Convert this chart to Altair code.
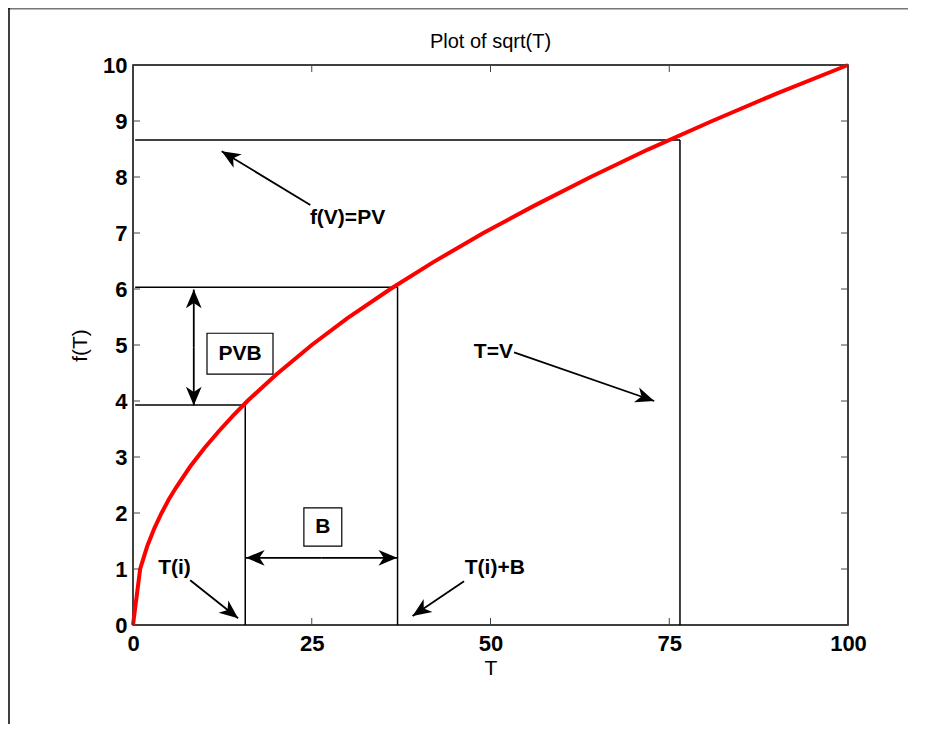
import math
import altair as alt
import pandas as pd

# ---- data ----
T_VALUES = [0, 1, 2, 3, 4, 5, 6, 8, 10, 12, 14, 16, 20, 25, 30, 36, 42, 49, 56, 64, 72, 81, 90, 100]
F_VALUES = [0, 1.0, 1.41, 1.73, 2.0, 2.24, 2.45, 2.83, 3.16, 3.46, 3.74, 4.0, 4.47, 5.0, 5.48, 6.0,
            6.48, 7.0, 7.48, 8.0, 8.49, 9.0, 9.49, 10.0]

X_TICKS = [0, 25, 50, 75, 100]
Y_TICKS = [0, 1, 2, 3, 4, 5, 6, 7, 8, 9, 10]

# black guide segments
GUIDE_T0 = [0.3, 76.5, 0.3, 37.0, 0.3, 15.7]
GUIDE_F0 = [8.66, 0.0, 6.03, 0.0, 3.93, 0.0]
GUIDE_T1 = [76.5, 76.5, 37.0, 37.0, 15.7, 15.7]
GUIDE_F1 = [8.66, 8.66, 6.03, 6.03, 3.93, 3.93]

# arrows (tail -> tip); the double arrows are two arrows from their middle
ARROW_TAIL_T = [24.8, 53.3, 8.0, 46.3, 8.5, 8.5, 26.4, 26.4]
ARROW_TAIL_F = [7.5, 4.87, 0.80, 0.78, 4.96, 4.96, 1.20, 1.20]
ARROW_TIP_T = [12.4, 72.9, 14.7, 39.1, 8.5, 8.5, 15.8, 36.95]
ARROW_TIP_F = [8.46, 4.0, 0.12, 0.16, 5.99, 3.92, 1.20, 1.20]

LABEL_TEXT = ["f(V)=PV", "T=V", "T(i)", "T(i)+B"]
LABEL_T = [30.0, 50.4, 5.8, 50.6]
LABEL_F = [7.27, 4.875, 1.02, 1.02]

BOX_TEXT = ["PVB", "B"]
BOX_T0 = [10.35, 23.9]
BOX_T1 = [19.58, 29.2]
BOX_F0 = [4.48, 1.41]
BOX_F1 = [5.21, 2.09]

TITLE = "Plot of sqrt(T)"

# ---- layout ----
W, H = 715, 560
PX_PER_T = W / 100.0
PX_PER_F = H / 10.0
FONT = "Liberation Sans"
ARROW_PATH = "M0,0L0.42,1L0,0.72L-0.42,1Z"

x_scale = alt.Scale(domain=[0, 100], nice=False, zero=False)
y_scale = alt.Scale(domain=[0, 10], nice=False, zero=False)

curve_df = pd.DataFrame({"T": T_VALUES, "f": F_VALUES})
guide_df = pd.DataFrame({"t0": GUIDE_T0, "f0": GUIDE_F0, "t1": GUIDE_T1, "f1": GUIDE_F1})

angles = []
for t0, f0, t1, f1 in zip(ARROW_TAIL_T, ARROW_TAIL_F, ARROW_TIP_T, ARROW_TIP_F):
    dx = (t1 - t0) * PX_PER_T
    dy = -(f1 - f0) * PX_PER_F
    angles.append(math.degrees(math.atan2(dx, -dy)) % 360)
arrow_df = pd.DataFrame({"t0": ARROW_TAIL_T, "f0": ARROW_TAIL_F,
                         "t1": ARROW_TIP_T, "f1": ARROW_TIP_F, "angle": angles})
label_df = pd.DataFrame({"text": LABEL_TEXT, "T": LABEL_T, "f": LABEL_F})
box_df = pd.DataFrame({"text": BOX_TEXT, "t0": BOX_T0, "t1": BOX_T1, "f0": BOX_F0, "f1": BOX_F1,
                       "tc": [(a + b) / 2 for a, b in zip(BOX_T0, BOX_T1)],
                       "fc": [(a + b) / 2 for a, b in zip(BOX_F0, BOX_F1)]})
xt_df = pd.DataFrame({"T": X_TICKS})
yt_df = pd.DataFrame({"f": Y_TICKS})
title_df = pd.DataFrame({"text": [TITLE]})

x_axis = alt.Axis(values=X_TICKS, title="T", ticks=False, domain=False, grid=False,
                  labelFlush=False, labelOverlap=False,
                  labelFont=FONT, labelFontSize=22, labelFontWeight="bold", labelColor="black",
                  labelPadding=8, titleFont=FONT, titleFontSize=21, titleFontWeight="normal",
                  titleColor="black", titlePadding=3)
y_axis = alt.Axis(values=Y_TICKS, title="f(T)", ticks=False, domain=False, grid=False,
                  labelFlush=False, labelOverlap=False,
                  labelFont=FONT, labelFontSize=22, labelFontWeight="bold", labelColor="black",
                  labelPadding=6, titleFont=FONT, titleFontSize=21, titleFontWeight="normal",
                  titleColor="black", titlePadding=12)

base = alt.Chart(curve_df)

curve = base.mark_line(color="red", strokeWidth=4).encode(
    x=alt.X("T:Q", scale=x_scale, axis=x_axis),
    y=alt.Y("f:Q", scale=y_scale, axis=y_axis),
    order="T:Q",
)

guides = alt.Chart(guide_df).mark_rule(color="black", strokeWidth=1.5).encode(
    x=alt.X("t0:Q", scale=x_scale), y=alt.Y("f0:Q", scale=y_scale),
    x2="t1:Q", y2="f1:Q",
)

shafts = alt.Chart(arrow_df).mark_rule(color="black", strokeWidth=1.8).encode(
    x=alt.X("t0:Q", scale=x_scale), y=alt.Y("f0:Q", scale=y_scale),
    x2="t1:Q", y2="f1:Q",
)

heads = alt.Chart(arrow_df).mark_point(shape=ARROW_PATH, size=1400, filled=True,
                                       color="black", opacity=1, strokeWidth=0).encode(
    x=alt.X("t1:Q", scale=x_scale), y=alt.Y("f1:Q", scale=y_scale),
    angle=alt.Angle("angle:Q", scale=None),
)

labels = alt.Chart(label_df).mark_text(font=FONT, fontSize=21, fontWeight="bold",
                                       color="black", align="center", baseline="middle").encode(
    x=alt.X("T:Q", scale=x_scale), y=alt.Y("f:Q", scale=y_scale), text="text:N",
)

boxes = alt.Chart(box_df).mark_rect(fill="white", stroke="black", strokeWidth=1.2).encode(
    x=alt.X("t0:Q", scale=x_scale), x2="t1:Q",
    y=alt.Y("f0:Q", scale=y_scale), y2="f1:Q",
)
box_text = alt.Chart(box_df).mark_text(font=FONT, fontSize=21, fontWeight="bold",
                                       color="black", align="center", baseline="middle").encode(
    x=alt.X("tc:Q", scale=x_scale), y=alt.Y("fc:Q", scale=y_scale), text="text:N",
)

title_mark = alt.Chart(title_df).mark_text(font=FONT, fontSize=20, fontWeight="normal",
                                           color="black", align="center", baseline="middle").encode(
    x=alt.value(W / 2), y=alt.value(-23), text="text:N",
)

tick_col = "#444444"
xt_bottom = alt.Chart(xt_df).mark_rule(color=tick_col, strokeWidth=1).encode(
    x=alt.X("T:Q", scale=x_scale), y=alt.value(H), y2=alt.value(H - 7))
xt_top = alt.Chart(xt_df).mark_rule(color=tick_col, strokeWidth=1).encode(
    x=alt.X("T:Q", scale=x_scale), y=alt.value(0), y2=alt.value(7))
yt_left = alt.Chart(yt_df).mark_rule(color=tick_col, strokeWidth=1).encode(
    y=alt.Y("f:Q", scale=y_scale), x=alt.value(0), x2=alt.value(7))
yt_right = alt.Chart(yt_df).mark_rule(color=tick_col, strokeWidth=1).encode(
    y=alt.Y("f:Q", scale=y_scale), x=alt.value(W), x2=alt.value(W - 7))

# figure window frame (top grey line, left black line)
frame_top = alt.Chart(title_df).mark_rule(color="#777777", strokeWidth=2).encode(
    x=alt.value(-125), x2=alt.value(W + 60), y=alt.value(-56.5))
frame_left = alt.Chart(title_df).mark_rule(color="black", strokeWidth=1.5).encode(
    x=alt.value(-124), y=alt.value(-57), y2=alt.value(H + 99))

chart = alt.layer(
    frame_top, frame_left, title_mark,
    guides, boxes, curve, shafts, heads, labels, box_text,
    xt_bottom, xt_top, yt_left, yt_right,
).properties(
    width=W, height=H,
    padding={"left": 125, "top": 57, "right": 60, "bottom": 99},
    autosize=alt.AutoSizeParams(type="none"),
    background="white",
).configure_view(stroke="black", strokeWidth=1.5)

chart.save("out.html", embed_options={"renderer": "svg", "actions": False})
